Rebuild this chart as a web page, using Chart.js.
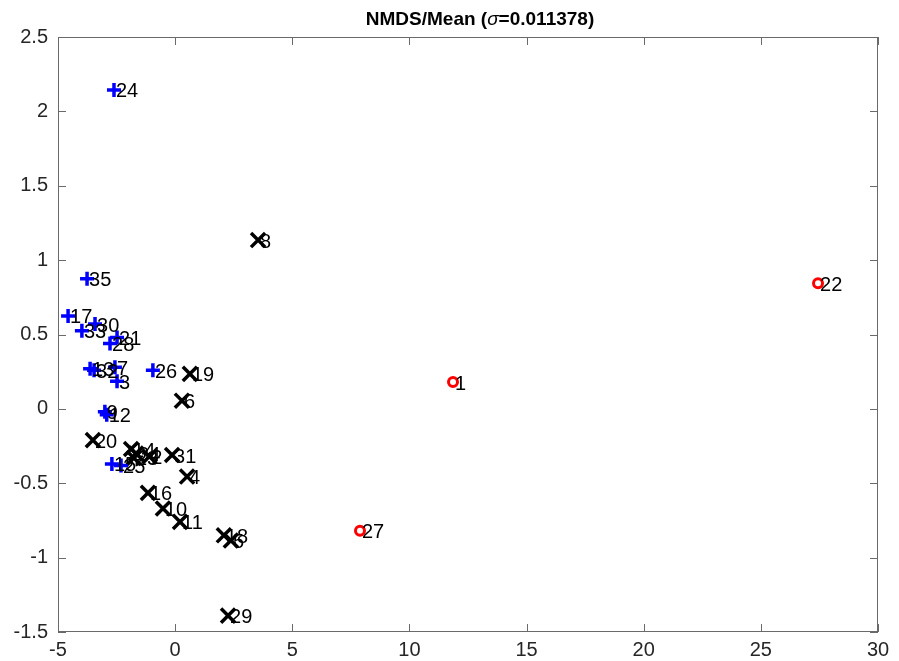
<!DOCTYPE html>
<html lang="en">
<head>
    <meta charset="UTF-8">
    <title>NMDS/Mean</title>
    <script src="https://cdn.jsdelivr.net/npm/chart.js"></script>
    <style>
        html, body {
            margin: 0;
            padding: 0;
            background: #ffffff;
        }
        #wrap {
            width: 899px;
            height: 661px;
        }
    </style>
</head>
<body>
    <div id="wrap"><canvas id="nmdsChart" width="899" height="661"></canvas></div>

    <script>
        // red circles
        const redLabels = ['1', '22', '27'];
        const redX = [11.86, 27.44, 7.89];
        const redY = [0.18, 0.845, -0.82];

        // blue plus signs
        const blueLabels = ['24', '35', '17', '30', '33', '21', '28', '13', '32', '7', '3', '26', '9', '12', '15', '25'];
        const blueX = [-2.61, -3.76, -4.57, -3.42, -3.98, -2.48, -2.78, -3.63, -3.46, -2.57, -2.48, -0.95, -3.00, -2.92, -2.70, -2.31];
        const blueY = [2.144, 0.875, 0.625, 0.57, 0.525, 0.48, 0.44, 0.27, 0.26, 0.28, 0.185, 0.26, -0.02, -0.04, -0.37, -0.38];

        // black crosses
        const blackLabels = ['8', '19', '6', '20', '14', '34', '23', '2', '31', '4', '16', '10', '11', '18', '5', '29'];
        const blackX = [3.54, 0.63, 0.29, -3.51, -1.88, -1.67, -1.76, -1.1, -0.13, 0.51, -1.16, -0.52, 0.21, 2.08, 2.38, 2.26];
        const blackY = [1.135, 0.235, 0.055, -0.21, -0.27, -0.30, -0.33, -0.32, -0.31, -0.455, -0.565, -0.67, -0.76, -0.85, -0.885, -1.39];

        const xTicks = [-5, 0, 5, 10, 15, 20, 25, 30];
        const yTicks = [-1.5, -1, -0.5, 0, 0.5, 1, 1.5, 2, 2.5];

        const FONT = '"Liberation Sans", Arial, sans-serif';
        const AXIS_COLOR = '#262626';
        const FRAME_COLOR = '#6a6a6a';

        function toPoints(xs, ys, labels) {
            return xs.map((x, i) => ({ x: x, y: ys[i], label: labels[i] }));
        }

        // point labels next to each marker
        const labelPlugin = {
            id: 'pointLabels',
            afterDatasetsDraw(chart) {
                const ctx = chart.ctx;
                ctx.save();
                ctx.font = '20px ' + FONT;
                ctx.fillStyle = '#000000';
                ctx.textAlign = 'left';
                ctx.textBaseline = 'middle';
                chart.data.datasets.forEach(ds => {
                    ds.data.forEach(p => {
                        const px = chart.scales.x.getPixelForValue(p.x);
                        const py = chart.scales.y.getPixelForValue(p.y);
                        ctx.fillText(p.label, px + 2, py + 2);
                    });
                });
                ctx.restore();
            }
        };

        // box around the axes with inward ticks, and the title
        const framePlugin = {
            id: 'frame',
            afterDraw(chart) {
                const ctx = chart.ctx;
                const a = chart.chartArea;
                const len = 8;
                ctx.save();
                ctx.strokeStyle = FRAME_COLOR;
                ctx.lineWidth = 1;
                ctx.strokeRect(a.left + 0.5, a.top + 0.5, a.right - a.left - 1, a.bottom - a.top - 1);
                ctx.beginPath();
                xTicks.forEach(v => {
                    const px = Math.round(chart.scales.x.getPixelForValue(v)) + 0.5;
                    ctx.moveTo(px, a.bottom);
                    ctx.lineTo(px, a.bottom - len);
                    ctx.moveTo(px, a.top);
                    ctx.lineTo(px, a.top + len);
                });
                yTicks.forEach(v => {
                    const py = Math.round(chart.scales.y.getPixelForValue(v)) + 0.5;
                    ctx.moveTo(a.left, py);
                    ctx.lineTo(a.left + len, py);
                    ctx.moveTo(a.right, py);
                    ctx.lineTo(a.right - len, py);
                });
                ctx.stroke();

                // title with italic sigma
                const parts = [
                    { t: 'NMDS/Mean (', f: 'bold 19px ' + FONT },
                    { t: '\u03C3', f: 'italic 19px ' + FONT },
                    { t: '=0.011378)', f: 'bold 19px ' + FONT }
                ];
                let total = 0;
                parts.forEach(p => { ctx.font = p.f; p.w = ctx.measureText(p.t).width; total += p.w; });
                let x = (a.left + a.right) / 2 + 12 - total / 2;
                ctx.fillStyle = '#000000';
                ctx.textAlign = 'left';
                ctx.textBaseline = 'middle';
                parts.forEach(p => {
                    ctx.font = p.f;
                    ctx.fillText(p.t, x, 20);
                    x += p.w;
                });
                ctx.restore();
            }
        };

        new Chart(document.getElementById('nmdsChart'), {
            type: 'scatter',
            data: {
                datasets: [
                    {
                        label: 'group 1',
                        data: toPoints(blueX, blueY, blueLabels),
                        pointStyle: 'cross',
                        pointRadius: 7,
                        borderColor: '#0000ff',
                        backgroundColor: '#0000ff',
                        borderWidth: 3.5
                    },
                    {
                        label: 'group 2',
                        data: toPoints(blackX, blackY, blackLabels),
                        pointStyle: 'crossRot',
                        pointRadius: 10,
                        borderColor: '#000000',
                        backgroundColor: '#000000',
                        borderWidth: 3.5
                    },
                    {
                        label: 'group 3',
                        data: toPoints(redX, redY, redLabels),
                        pointStyle: 'circle',
                        pointRadius: 4.5,
                        borderColor: '#ff0000',
                        backgroundColor: 'rgba(0,0,0,0)',
                        borderWidth: 3
                    }
                ]
            },
            options: {
                responsive: false,
                animation: false,
                layout: {
                    padding: { top: 37, right: 21, bottom: 0, left: 0 }
                },
                plugins: {
                    legend: { display: false },
                    tooltip: { enabled: false },
                    title: { display: false }
                },
                scales: {
                    x: {
                        type: 'linear',
                        min: -5,
                        max: 30,
                        grid: { display: false, drawTicks: false },
                        border: { display: false },
                        afterBuildTicks: scale => { scale.ticks = xTicks.map(v => ({ value: v })); },
                        afterFit: scale => { scale.height = 29; },
                        ticks: {
                            color: AXIS_COLOR,
                            font: { family: FONT, size: 20 },
                            padding: 6,
                            maxRotation: 0,
                            callback: v => String(v)
                        }
                    },
                    y: {
                        type: 'linear',
                        min: -1.5,
                        max: 2.5,
                        grid: { display: false, drawTicks: false },
                        border: { display: false },
                        afterBuildTicks: scale => { scale.ticks = yTicks.map(v => ({ value: v })); },
                        afterFit: scale => { scale.width = 58; },
                        ticks: {
                            color: AXIS_COLOR,
                            font: { family: FONT, size: 20 },
                            padding: 10,
                            callback: v => String(v)
                        }
                    }
                }
            },
            plugins: [labelPlugin, framePlugin]
        });
    </script>
</body>
</html>
